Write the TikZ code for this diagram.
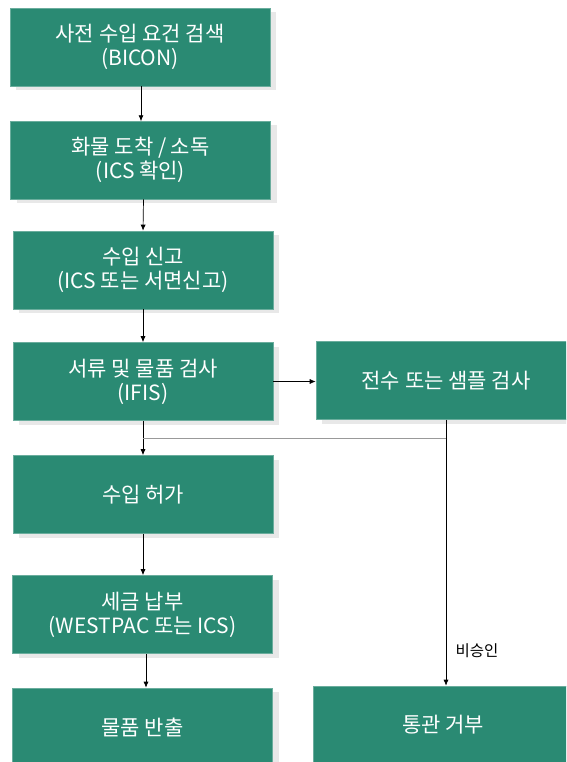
\documentclass[tikz,border=0pt]{standalone}
\usepackage{fontspec}
\setmainfont{Noto Sans CJK KR}
\usetikzlibrary{arrows.meta,positioning,shadows}
\definecolor{boxgreen}{HTML}{2A8A73}
\tikzset{
	procbox/.style={fill=boxgreen, draw=boxgreen!70!white, line width=0.6pt, text=white, align=center,
		minimum width=260pt, minimum height=78pt, inner sep=0pt,
		font=\fontsize{21}{24}\selectfont,
		general shadow={shadow xshift=6pt, shadow yshift=-4pt, fill=gray!18}},
	flow/.style={-{Latex[length=6pt,width=5pt]}, line width=0.7pt, black}
}
\begin{document}
\begin{tikzpicture}[x=1pt,y=-1pt]
				\useasboundingbox (0,0) rectangle (566,762);
				\begin{scope}
				\clip (0,0) rectangle (566,762);
				\node[procbox] (search) at (140,47) {사전 수입 요건 검색\\(BICON)};
				\node[procbox] (arrive) at (140.5,160) {화물 도착 / 소독\\(ICS 확인)};
				\node[procbox] (declare) at (143,270) {수입 신고\\(ICS 또는 서면신고)};
				\node[procbox] (inspect) at (143,381.5) {서류 및 물품 검사\\(IFIS)};
				\node[procbox] (sample) at (446,380.5) {전수 또는 샘플 검사};
				\node[procbox] (permit) at (143,494.5) {수입 허가};
				\node[procbox] (duty) at (142.5,614.5) {세금 납부\\(WESTPAC 또는 ICS)};
				\node[procbox] (release) at (142.5,727) {물품 반출};
				\node[procbox] (reject) at (443,725) {통관 거부};
				\end{scope}
				\coordinate (join) at (0,438);
				\draw[flow] (search.south) ++(1,0) -- ++(0,35);
				\draw[flow] ([xshift=3pt]arrive.south) -- ([xshift=2.5pt]declare.north -| arrive.south);
				\draw[flow] (declare.south) -- (inspect.north);
				\draw[flow] (inspect.south) -- (permit.north);
				\draw[flow] (inspect.east) -- (inspect.east -| sample.west);
				\draw[flow] (permit.south) -- (permit.south |- duty.north);
				\draw[flow] ([xshift=3.5pt]duty.south) -- ([xshift=3.5pt]duty.south |- release.north);
				\draw[gray!80, line width=0.5pt] (inspect.south |- join) -- (sample.south |- join);
				\draw[flow] (sample.south) -- (sample.south |- reject.north) node[pos=0.87, right=6pt, font=\fontsize{15.5}{18}\selectfont] {비승인};
				\end{tikzpicture}
\end{document}
